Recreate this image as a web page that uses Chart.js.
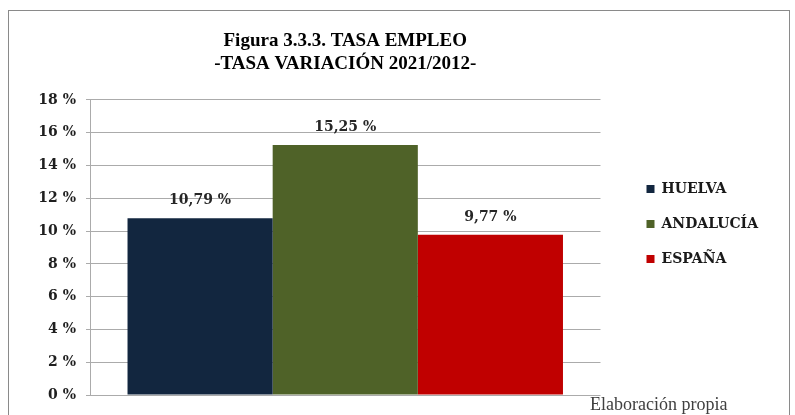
<!DOCTYPE html>
<html><head><meta charset="utf-8">
<script src="https://cdn.jsdelivr.net/npm/chart.js@4.4.1/dist/chart.umd.min.js"></script>
<style>
html,body{margin:0;padding:0;background:#fff;}
#wrap{position:relative;width:795px;height:415px;overflow:hidden;}
#frame{position:absolute;left:8px;top:10px;width:782px;height:430px;border:1px solid #8a8a8a;box-sizing:border-box;}
canvas{position:absolute;left:0;top:0;}
#note{position:absolute;left:590px;top:394px;font-family:'Liberation Serif',serif;font-size:18px;color:#404040;white-space:nowrap;line-height:20px;}
</style></head><body>
<div id="wrap"><div id="frame"></div><canvas id="c" width="795" height="415"></canvas><div id="note">Elaboración propia</div></div>
<script>
const categories = [''];
const seriesNames = ['HUELVA', 'ANDALUCÍA', 'ESPAÑA'];
const huelvaValues = [10.79];
const andaluciaValues = [15.25];
const espanaValues = [9.77];
const seriesColors = ['#12263f', '#4f6228', '#c00000'];
const yTickValues = [0, 2, 4, 6, 8, 10, 12, 14, 16, 18];
const titleLines = ['Figura 3.3.3. TASA EMPLEO', '-TASA VARIACIÓN 2021/2012-'];

const fmt = v => v.toFixed(2).replace('.', ',') + ' %';
const gridColor = '#ababab';
const serifBold = {family: "'DejaVu Serif', serif", weight: 'bold', size: 14};

const valueLabels = {
  id: 'valueLabels',
  afterDatasetsDraw(chart) {
    const ctx = chart.ctx;
    ctx.save();
    ctx.font = "bold 14px 'DejaVu Serif', serif";
    ctx.fillStyle = '#262626';
    ctx.textAlign = 'center';
    ctx.textBaseline = 'middle';
    chart.data.datasets.forEach((ds, i) => {
      chart.getDatasetMeta(i).data.forEach((bar, j) => {
        ctx.fillText(fmt(ds.data[j]), bar.x, bar.y - 18);
      });
    });
    ctx.restore();
  }
};

const allValues = [huelvaValues, andaluciaValues, espanaValues];
new Chart(document.getElementById('c'), {
  type: 'bar',
  data: {
    labels: categories,
    datasets: seriesNames.map((n, i) => ({
      label: n,
      data: allValues[i],
      backgroundColor: seriesColors[i],
      borderWidth: 0,
      categoryPercentage: 0.853,
      barPercentage: 1.0
    }))
  },
  options: {
    responsive: false,
    animation: false,
    devicePixelRatio: 1,
    layout: {padding: {top: 0, left: 0, right: 27, bottom: 20}},
    scales: {
      x: {display: false},
      y: {
        min: 0, max: 18,
        afterBuildTicks(s) { s.ticks = yTickValues.map(v => ({value: v})); },
        afterFit(s) { s.width = 90; },
        ticks: {callback: v => v + ' %', font: serifBold, color: '#1f1f1f', padding: 10},
        grid: {color: gridColor, tickLength: 4, drawTicks: true},
        border: {display: true, color: gridColor}
      },
      yR: {
        type: 'linear', position: 'right', display: true,
        grid: {display: false}, ticks: {display: false}, border: {display: false},
        afterFit(s) { s.width = 25; }
      }
    },
    plugins: {
      title: {
        display: true, text: titleLines, fullSize: false,
        font: {family: "'Liberation Serif', serif", weight: 'bold', size: 19, lineHeight: 1.21},
        color: '#000', padding: {top: 30, bottom: 24}
      },
      legend: {
        display: true, position: 'right', maxWidth: 220,
        title: {display: true, text: ' ', padding: {top: 26, bottom: 26}, font: {size: 1}},
        labels: {boxWidth: 8, boxHeight: 8, padding: 21, font: serifBold, color: '#1a1a1a'}
      },
      tooltip: {enabled: false}
    }
  },
  plugins: [valueLabels]
});
</script>
</body></html>
